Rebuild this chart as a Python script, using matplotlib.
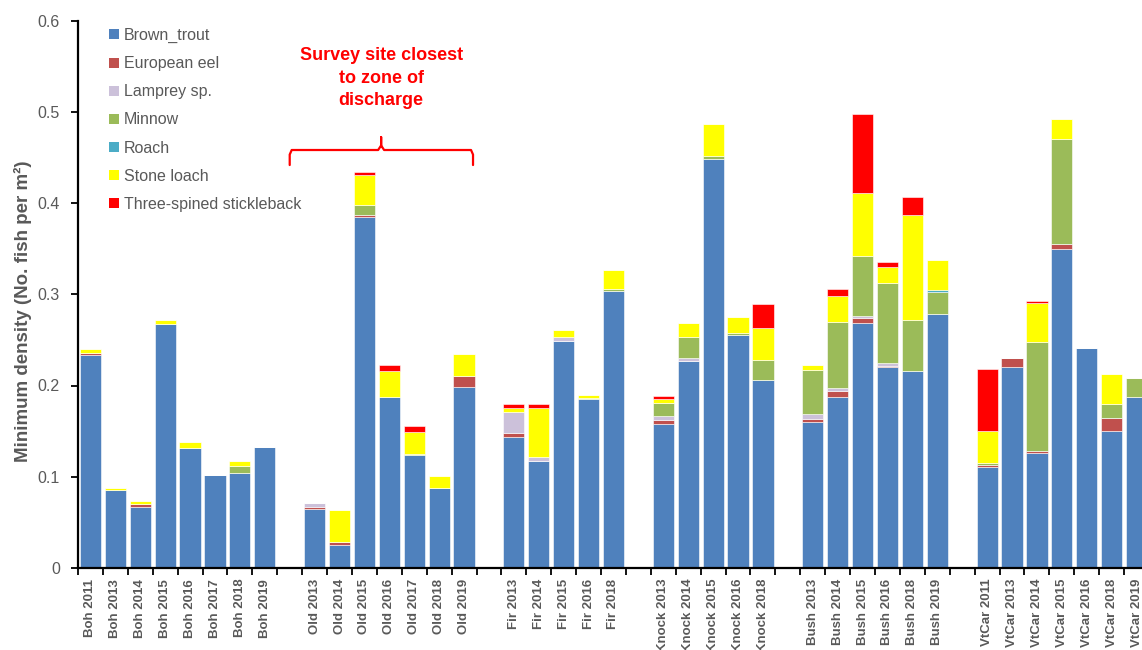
import matplotlib
matplotlib.use("Agg")
import matplotlib.pyplot as plt
from matplotlib.patches import Patch
import numpy as np

plt.rcParams['font.family'] = ['Liberation Sans', 'DejaVu Sans']

# site/year categories, '' = spacer between sites
categories = ['Boh 2011', 'Boh 2013', 'Boh 2014', 'Boh 2015', 'Boh 2016', 'Boh 2017', 'Boh 2018', 'Boh 2019', '',
              'Old 2013', 'Old 2014', 'Old 2015', 'Old 2016', 'Old 2017', 'Old 2018', 'Old 2019', '',
              'Fir 2013', 'Fir 2014', 'Fir 2015', 'Fir 2016', 'Fir 2018', '',
              'Knock 2013', 'Knock 2014', 'Knock 2015', 'Knock 2016', 'Knock 2018', '',
              'Bush 2013', 'Bush 2014', 'Bush 2015', 'Bush 2016', 'Bush 2018', 'Bush 2019', '',
              'VtCar 2011', 'VtCar 2013', 'VtCar 2014', 'VtCar 2015', 'VtCar 2016', 'VtCar 2018', 'VtCar 2019']

brown_trout = [0.233, 0.085, 0.067, 0.267, 0.131, 0.102, 0.104, 0.132, 0,
               0.064, 0.025, 0.385, 0.187, 0.124, 0.087, 0.198, 0,
               0.143, 0.117, 0.2485, 0.1855, 0.304, 0,
               0.158, 0.227, 0.449, 0.255, 0.206, 0,
               0.160, 0.187, 0.269, 0.220, 0.216, 0.2785, 0,
               0.110, 0.2206, 0.1256, 0.3495, 0.2415, 0.150, 0.1877]
european_eel = [0.003, 0, 0.003, 0, 0, 0, 0, 0, 0,
                0.003, 0.0033, 0.0026, 0, 0, 0, 0.012, 0,
                0.0044, 0, 0, 0, 0, 0,
                0.0044, 0, 0, 0, 0, 0,
                0.003, 0.007, 0.0047, 0.0017, 0, 0, 0,
                0.003, 0.0096, 0.003, 0.0058, 0, 0.0143, 0]
lamprey = [0, 0, 0, 0, 0, 0, 0, 0, 0,
           0.004, 0, 0, 0, 0, 0, 0, 0,
           0.024, 0.0044, 0.0044, 0, 0, 0,
           0.004, 0.0033, 0, 0, 0, 0,
           0.0055, 0.0033, 0.003, 0.003, 0, 0, 0,
           0, 0, 0, 0, 0, 0, 0]
minnow = [0, 0, 0, 0.001, 0, 0, 0.008, 0, 0,
          0, 0, 0.010, 0, 0.001, 0.001, 0, 0,
          0, 0, 0, 0.001, 0.0015, 0,
          0.0146, 0.0227, 0.0033, 0.003, 0.0216, 0,
          0.049, 0.072, 0.0654, 0.088, 0.0557, 0.0238, 0,
          0.002, 0, 0.119, 0.115, 0, 0.0154, 0.021]
roach = [0, 0, 0, 0, 0, 0, 0, 0, 0,
         0, 0, 0, 0, 0, 0, 0, 0,
         0, 0, 0, 0, 0, 0,
         0, 0, 0, 0, 0, 0,
         0, 0, 0, 0, 0, 0.003, 0,
         0, 0, 0, 0, 0, 0, 0]
stone_loach = [0.004, 0.003, 0.003, 0.004, 0.0074, 0, 0.005, 0, 0,
               0, 0.0347, 0.0333, 0.0286, 0.0239, 0.0127, 0.025, 0,
               0.0044, 0.054, 0.008, 0.0033, 0.0216, 0,
               0.0037, 0.0154, 0.0344, 0.0176, 0.036, 0,
               0.0047, 0.0285, 0.0695, 0.0175, 0.116, 0.0326, 0,
               0.035, 0, 0.0425, 0.022, 0, 0.033, 0]
stickleback = [0, 0, 0, 0, 0, 0, 0, 0, 0,
               0, 0, 0.0037, 0.0072, 0.0062, 0, 0, 0,
               0.004, 0.004, 0, 0, 0, 0,
               0.0043, 0, 0, 0, 0.0263, 0,
               0, 0.0084, 0.0864, 0.0052, 0.0194, 0, 0,
               0.068, 0, 0.0026, 0, 0, 0, 0]

species = ['Brown_trout', 'European eel', 'Lamprey sp.', 'Minnow', 'Roach',
           'Stone loach', 'Three-spined stickleback']
series = [brown_trout, european_eel, lamprey, minnow, roach, stone_loach, stickleback]
colors = ['#4F81BD', '#C0504D', '#CCC1DA', '#9BBB59', '#4BACC6', '#FFFF00', '#FF0000']

grey = '#595959'

fig = plt.figure(figsize=(11.42, 6.5), dpi=100)
# axes runs a little past the right edge, as in the original
ax = fig.add_axes([78 / 1142, 82.3 / 650, 1071 / 1142, 546.6 / 650])

x = np.arange(len(categories))
bottom = np.zeros(len(categories))
for vals, c in zip(series, colors):
    vals = np.array(vals)
    ax.bar(x, vals, bottom=bottom, width=0.85, color=c,
           edgecolor='white', linewidth=0.4)
    bottom += vals

ax.set_xlim(-0.5, len(categories) - 0.5)
ax.set_ylim(0, 0.6)
ax.set_yticks([0, 0.1, 0.2, 0.3, 0.4, 0.5, 0.6])
ax.set_yticklabels(['0', '0.1', '0.2', '0.3', '0.4', '0.5', '0.6'])

ax.set_xticks(x)
ax.set_xticklabels(categories, rotation=90, fontweight='bold')
ax.set_xticks(np.arange(-0.5, len(categories), 1), minor=True)
ax.tick_params(axis='x', which='major', length=0, pad=8, labelsize=9.5, labelcolor=grey)
ax.tick_params(axis='x', which='minor', length=5, width=1.3, direction='out')
ax.tick_params(axis='y', length=5, width=1.3, direction='out', labelsize=11.5,
               labelcolor=grey, pad=8)

for s in ['top', 'right']:
    ax.spines[s].set_visible(False)
for s in ['left', 'bottom']:
    ax.spines[s].set_linewidth(1.6)

fig.text(23 / 1142, 1 - 311 / 650, 'Minimum density (No. fish per m²)', fontsize=13.5,
         fontweight='bold', color=grey, rotation=90, ha='center', va='center')

handles = [Patch(facecolor=c, edgecolor='none') for c in colors]
fig.legend(handles, species, loc='upper left', bbox_to_anchor=(109 / 1142, 1 - 28 / 650),
           frameon=False, fontsize=11.5, labelcolor=grey, handlelength=0.6,
           handleheight=0.6, handletextpad=0.35, labelspacing=0.82,
           borderpad=0, borderaxespad=0)

# bracket and note over the Old site
bx0, bx1, bxm = 8.0, 15.36, 11.67
ytip, yline, ypeak = 0.442, 0.4585, 0.4727
ax.plot([bx0, bx0, bx0 + 0.08, bxm - 0.12, bxm, bxm, bxm, bxm + 0.12, bx1 - 0.08, bx1, bx1],
        [ytip, yline - 0.005, yline, yline, yline + 0.005, ypeak, yline + 0.005,
         yline, yline, yline - 0.005, ytip],
        color='red', linewidth=1.6, solid_joinstyle='round', solid_capstyle='round')
ax.text(bxm, 0.503, 'Survey site closest\nto zone of\ndischarge', color='red',
        fontsize=13, fontweight='bold', ha='center', va='bottom', linespacing=1.45)

fig.savefig('out.png', dpi=100)
